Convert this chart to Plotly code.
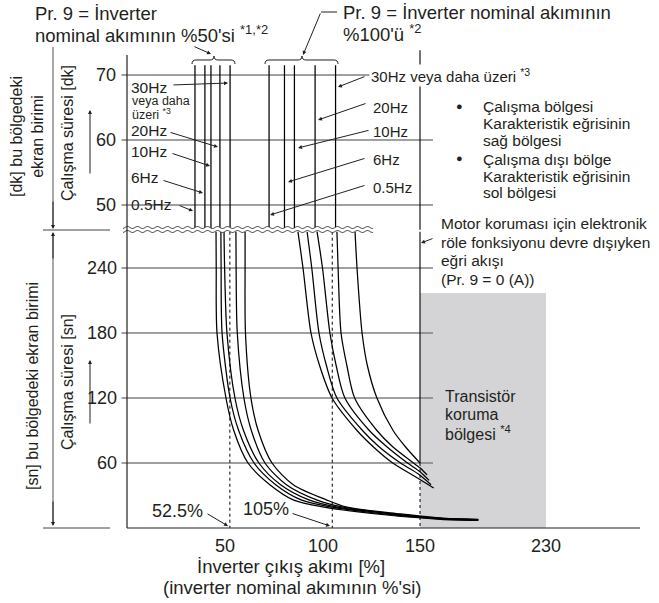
import numpy as np
import plotly.graph_objects as go

W, H = 659, 603
FONT = "Liberation Sans, Arial, sans-serif"
TC = "#231f20"
GRID = "#808080"

# ---------------- data ----------------
x_ticks = [50, 100, 150, 230]
x_tick_text = ["50", "100", "150", "230"]
sec_ticks = [60, 120, 180, 240]
min_ticks = [50, 60, 70]
freqs = ["0.5Hz", "6Hz", "10Hz", "20Hz", "30Hz"]

# minutes region (vertical parts of the curves), current in %
upper_cur_50 = [34.6, 39.7, 42.8, 47.4, 52.6]
upper_cur_100 = [72.6, 80.5, 85.6, 96.2, 106.7]
upper_min_top = 71.5
upper_min_bottom = 46.2

# seconds region, Pr.9 = 50 %
lower_50_cur = [
    [45.4, 45.5, 45.9, 50.5, 54.5, 61.8, 73.0, 85.0, 100.0, 133.0, 163.0, 187.0],
    [47.9, 48.0, 48.5, 52.6, 57.0, 64.9, 76.0, 89.0, 104.0, 135.0, 164.0, 187.0],
    [49.5, 49.8, 51.0, 55.1, 59.5, 67.4, 78.5, 93.0, 107.0, 137.0, 164.0, 187.0],
    [55.6, 55.7, 56.3, 59.7, 63.5, 70.5, 81.5, 97.0, 110.0, 138.0, 165.0, 187.0],
    [60.3, 60.3, 60.5, 63.3, 67.0, 74.1, 85.0, 102.0, 112.0, 140.0, 165.0, 187.0],
]
lower_50_sec = [
    [273.5, 240, 180, 120, 90, 60, 40, 26, 19.5, 12.0, 8.0, 7.0],
    [273.5, 240, 180, 120, 90, 60, 40, 26, 19.5, 12.3, 8.3, 7.3],
    [273.5, 240, 180, 120, 90, 60, 40, 26, 19.5, 12.6, 8.6, 7.6],
    [273.5, 240, 180, 120, 90, 60, 40, 26, 19.5, 12.8, 8.8, 7.8],
    [273.5, 240, 180, 120, 90, 60, 40, 26, 19.5, 13.0, 9.0, 8.0],
]
# seconds region, Pr.9 = 100 %
lower_100_cur = [
    [87.4, 90.0, 94.1, 98.5, 104.9, 117.7, 126.0, 136.0, 147.0, 158.7],
    [92.1, 94.5, 98.2, 102.0, 107.4, 120.5, 129.0, 140.0, 149.0, 157.0],
    [97.2, 100.0, 103.8, 107.0, 111.5, 124.0, 133.0, 143.6, 150.0, 155.8],
    [107.4, 108.0, 109.5, 112.5, 116.5, 127.9, 136.0, 146.7, 150.5, 154.5],
    [116.7, 117.7, 120.3, 123.0, 127.9, 136.2, 142.5, 150.0],
]
lower_100_sec = [
    [273.5, 240, 180, 150, 120, 90, 75, 60, 48, 37],
    [273.5, 240, 180, 150, 120, 90, 75, 60, 50, 40],
    [273.5, 240, 180, 150, 120, 90, 75, 60, 52, 44],
    [273.5, 240, 180, 150, 120, 90, 75, 60, 55, 49],
    [273.5, 240, 180, 150, 120, 90, 75, 60],
]
# relay off (Pr.9 = 0) line, transistor protection region, marker lines
off_cur = 150
off_min_top = 73.8
off_sec_solid_end = 60
trans_cur = [150, 230]
trans_sec_top = 217
marker_cur = [52.5, 105]
marker_text = ["52.5%", "105%"]

# ---------------- scales ----------------
X0PIX, XSCALE = 127.5, 1.95          # px per %
COMP = 0.8077                         # compressed scale above 150 %


def disp(p):
    p = np.asarray(p, dtype=float)
    return np.where(p <= 150, p, 150 + (p - 150) * COMP)


def px2d(px):
    return (px - X0PIX) / XSCALE


Y0SEC, SSCALE = 528.0, 65.0 / 60.0   # px per second
Y70, MSCALE = 75.0, 6.5               # px per minute

xr = [px2d(0), px2d(W)]
yr_sec = [(Y0SEC - H) / SSCALE, Y0SEC / SSCALE]
yr_min = [70 - (H - Y70) / MSCALE, 70 + Y70 / MSCALE]


def P(x, y):
    return x / W, 1 - y / H


fig = go.Figure()
LW = 1.25

# upper (minutes) vertical segments
for c in upper_cur_50 + upper_cur_100:
    fig.add_trace(go.Scatter(x=disp([c, c]), y=[upper_min_top, upper_min_bottom], yaxis="y2",
                             mode="lines", line=dict(color="black", width=LW), hoverinfo="skip"))
# lower curves
for cur, sec in list(zip(lower_50_cur, lower_50_sec)) + list(zip(lower_100_cur, lower_100_sec)):
    fig.add_trace(go.Scatter(x=disp(cur), y=sec, mode="lines",
                             line=dict(color="black", width=LW, shape="spline", smoothing=0.8),
                             hoverinfo="skip"))
# relay-off line
fig.add_trace(go.Scatter(x=disp([off_cur, off_cur]), y=[off_min_top, upper_min_bottom], yaxis="y2",
                         mode="lines", line=dict(color="black", width=1.1), hoverinfo="skip"))
fig.add_trace(go.Scatter(x=disp([off_cur, off_cur]), y=[273.5, off_sec_solid_end], mode="lines",
                         line=dict(color="black", width=1.1), hoverinfo="skip"))
fig.add_trace(go.Scatter(x=disp([off_cur, off_cur]), y=[off_sec_solid_end, 0], mode="lines",
                         line=dict(color="black", width=1, dash="dot"), hoverinfo="skip"))
for m in marker_cur:
    fig.add_trace(go.Scatter(x=disp([m, m]), y=[273.5, 0], mode="lines",
                             line=dict(color="black", width=1, dash="dot"), hoverinfo="skip"))

shapes = []
# transistor region
shapes.append(dict(type="rect", xref="x", yref="y", x0=float(disp(trans_cur[0])), x1=float(disp(trans_cur[1])),
                   y0=0, y1=trans_sec_top, fillcolor="#d4d4d6", line=dict(width=0), layer="below"))
# gridlines
g0, g1 = px2d(121.5), px2d(433)
for t in sec_ticks:
    shapes.append(dict(type="line", xref="x", yref="y", x0=g0, x1=g1, y0=t, y1=t,
                       line=dict(color=GRID, width=1.6), layer="below"))
for t in min_ticks:
    shapes.append(dict(type="line", xref="x", yref="y2", x0=g0, x1=g1, y0=t, y1=t,
                       line=dict(color=GRID, width=1.6), layer="below"))

# wavy break
xs = np.linspace(123, 373, 400)
w1 = 227.5 + 1.0 * np.sin(xs / 10 * 2 * np.pi)
w2 = 231.5 + 1.0 * np.sin(xs / 10 * 2 * np.pi)


def pathstr(xp, yp, close=False):
    pts = [P(a, b) for a, b in zip(xp, yp)]
    s = "M" + " L".join(f"{a:.5f},{b:.5f}" for a, b in pts)
    return s + (" Z" if close else "")


shapes.append(dict(type="path", xref="paper", yref="paper",
                   path=pathstr(np.concatenate([xs, xs[::-1]]), np.concatenate([w1, w2[::-1]]), True),
                   fillcolor="white", line=dict(width=0), layer="above"))
for w in (w1, w2):
    shapes.append(dict(type="path", xref="paper", yref="paper", path=pathstr(xs, w),
                       line=dict(color="#333", width=1), layer="above"))


def pline(x0, y0, x1, y1, color=TC, width=1.0, dash=None):
    a, b = P(x0, y0)
    c, d = P(x1, y1)
    ln = dict(color=color, width=width)
    if dash:
        ln["dash"] = dash
    return dict(type="line", xref="paper", yref="paper", x0=a, y0=b, x1=c, y1=d, line=ln, layer="above")


# axes
shapes.append(pline(127, 55, 127, 528, "#222", 1.2))
shapes.append(pline(127, 528, 640, 528, "#222", 1.2))
# left brackets
shapes.append(pline(43, 230, 110, 230, "#444", 1.0))
shapes.append(pline(43, 528, 110, 528, "#444", 1.0))
shapes.append(pline(53, 47, 53, 226, "#555", 1.0))
shapes.append(pline(53, 234, 53, 524, "#555", 1.0))
# braces


def brace(xl, xr_, xt, yb=64, ym=60, yt=56):
    pts = [(xl, yb), (xl, ym), (xl + 4, ym), (xt - 4, ym), (xt, ym), (xt, yt), (xt, ym), (xt + 4, ym),
           (xr_ - 4, ym), (xr_, ym), (xr_, yb)]
    p = [P(a, b) for a, b in pts]
    f = lambda i: f"{p[i][0]:.5f},{p[i][1]:.5f}"
    path = (f"M{f(0)} Q{f(1)} {f(2)} L{f(3)} Q{f(4)} {f(5)} Q{f(6)} {f(7)} L{f(8)} Q{f(9)} {f(10)}")
    return dict(type="path", xref="paper", yref="paper", path=path, line=dict(color=TC, width=1), layer="above")


shapes.append(brace(192, 235, 214))
shapes.append(brace(265, 338, 302))
shapes.append(pline(321, 12, 337, 12, TC, 1))

ann = []


def txt(s, x, y, size=16, anchor="left", bg=None, angle=0):
    a, b = P(x, y)
    d = dict(text=s, x=a, y=b, xref="paper", yref="paper", xanchor=anchor, yanchor="middle",
             showarrow=False, font=dict(size=size, family=FONT, color=TC), textangle=angle)
    if bg:
        d["bgcolor"] = bg
    return d


def arrow(hx, hy, tx, ty, side="end", head=2, size=0.8, color=TC):
    a, b = P(hx, hy)
    return dict(text="", x=a, y=b, xref="paper", yref="paper", ax=tx - hx, ay=ty - hy,
                axref="pixel", ayref="pixel", showarrow=True, arrowhead=head, startarrowhead=head,
                arrowsize=size, startarrowsize=size, arrowwidth=1, arrowcolor=color, arrowside=side)


# tick labels
for t in min_ticks:
    ann.append(dict(text=str(t), x=118 / W, y=t, xref="paper", yref="y2", xanchor="right", yanchor="middle",
                    showarrow=False, font=dict(size=18, family=FONT, color=TC)))
for t in sec_ticks:
    ann.append(dict(text=str(t), x=119 / W, y=t, xref="paper", yref="y", xanchor="right", yanchor="middle",
                    showarrow=False, font=dict(size=18, family=FONT, color=TC)))
for v, s in zip(x_ticks, x_tick_text):
    ann.append(dict(text=s, x=float(disp(v)), y=1 - 546 / H, xref="x", yref="paper", xanchor="center",
                    yanchor="middle", showarrow=False, font=dict(size=18, family=FONT, color=TC)))

# titles
ann.append(txt("İnverter çıkış akımı [%]", 291, 566, 18.5, "center"))
ann.append(txt("(inverter nominal akımının %'si)", 292, 587, 18.5, "center"))
ann.append(txt("Pr. 9 = İnverter", 33, 13, 18.5))
ann.append(txt("nominal akımının %50'si <sup>*1,*2</sup>", 33, 34, 18.5))
ann.append(txt("Pr. 9 = İnverter nominal akımının", 341, 12, 18.5))
ann.append(txt("%100'ü <sup>*2</sup>", 341, 33, 18.5))
ann.append(arrow(211, 54, 193, 46))
ann.append(arrow(303, 55, 321, 12))

# left axis texts
ann.append(txt("[dk] bu bölgedeki<br>ekran birimi", 27, 137, 16, "center", angle=-90))
ann.append(txt("Çalışma süresi [dk]", 67, 133, 16, "center", angle=-90))
ann.append(txt("[sn] bu bölgedeki ekran birimi", 32, 386, 16, "center", angle=-90))
ann.append(txt("Çalışma süresi [sn]", 67, 382, 16, "center", angle=-90))
ann.append(arrow(90, 110, 90, 175))
ann.append(arrow(90, 360, 90, 425))
ann.append(arrow(53, 229, 53, 200))
ann.append(arrow(53, 232, 53, 260))
ann.append(arrow(53, 526, 53, 500))

# left frequency labels (Pr.9 = 50 %)
ann.append(txt("30Hz", 129, 87, 15.5))
ann.append(txt("veya daha", 130, 101, 12.5))
ann.append(txt("üzeri <sup>*3</sup>", 130, 114, 12.5))
ann.append(arrow(228, 83, 172, 85))
left_lab = [("20Hz", 130.5, (218, 147), (169, 132)),
            ("10Hz", 151, (210, 166), (171, 153)),
            ("6Hz", 177.5, (203, 193), (162, 180)),
            ("0.5Hz", 204, (193, 211), (178, 205))]
for s, y, hd, tl in left_lab:
    ann.append(txt(s, 129, y, 15.5))
    ann.append(arrow(hd[0], hd[1], tl[0], tl[1]))

# right frequency labels (Pr.9 = 100 %)
ann.append(txt("30Hz veya daha üzeri <sup>*3</sup>", 369, 75, 15, bg="white"))
ann.append(arrow(338, 87, 366, 76))
right_lab = [("20Hz", 107.5, (318, 120), (367, 103)),
             ("10Hz", 131, (298, 148), (370, 130)),
             ("6Hz", 159, (288, 182), (366, 158)),
             ("0.5Hz", 187.5, (270, 215), (366, 185))]
for s, y, hd, tl in right_lab:
    ann.append(txt(s, 371, y, 15))
    ann.append(arrow(hd[0], hd[1], tl[0], tl[1]))

# bullets
for s, y in [("Çalışma bölgesi", 107), ("Karakteristik eğrisinin", 124), ("sağ bölgesi", 140),
             ("Çalışma dışı bölge", 159), ("Karakteristik eğrisinin", 176), ("sol bölgesi", 192)]:
    ann.append(txt(s, 481, y, 15.5))
ann.append(txt("●", 459, 106, 11, "center"))
ann.append(txt("●", 459, 158, 11, "center"))

# motor protection note
for s, y in [("Motor koruması için elektronik", 224), ("röle fonksiyonu devre dışıyken", 242.5),
             ("eğri akışı", 261), ("(Pr. 9 = 0 (A))", 279)]:
    ann.append(txt(s, 439, y, 15.5))
ann.append(arrow(421, 243, 434, 238))

# transistor region
for s, y in [("Transistör", 396), ("koruma", 414.5), ("bölgesi <sup>*4</sup>", 433)]:
    ann.append(txt(s, 443, y, 16))

# marker labels
ann.append(txt(marker_text[0], 177, 511, 18, "center"))
ann.append(txt(marker_text[1], 266, 509, 18, "center"))
ann.append(arrow(228, 526, 206, 513))
ann.append(arrow(330, 526, 291, 513))

fig.update_layout(
    width=W, height=H, autosize=False,
    margin=dict(l=0, r=0, t=0, b=0),
    paper_bgcolor="white", plot_bgcolor="white",
    showlegend=False,
    xaxis=dict(range=xr, visible=False, domain=[0, 1], fixedrange=True),
    yaxis=dict(range=yr_sec, visible=False, domain=[0, 1], fixedrange=True),
    yaxis2=dict(range=yr_min, visible=False, overlaying="y", fixedrange=True),
    shapes=shapes,
    annotations=ann,
)
fig.write_html("out.html", config={"displayModeBar": False, "staticPlot": True},
               post_script="document.body.style.margin='0';document.body.style.padding='0';"
                           "document.body.style.overflow='hidden';")
